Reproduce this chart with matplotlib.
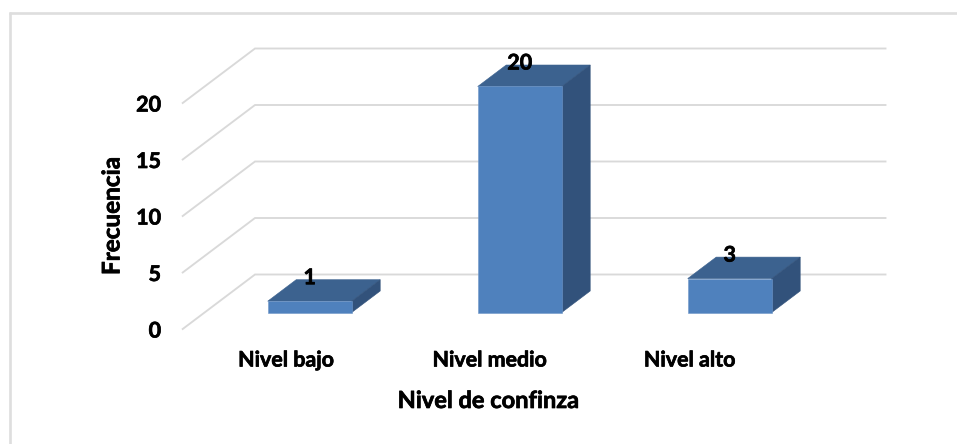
import matplotlib
matplotlib.use("Agg")
import matplotlib.pyplot as plt
import matplotlib.patheffects as pe
from matplotlib.patches import Polygon, Rectangle

categories = ["Nivel bajo", "Nivel medio", "Nivel alto"]
values = [1, 20, 3]
y_ticks = [0, 5, 10, 15, 20]
x_title = "Nivel de confinza"
y_title = "Frecuencia"

W, H = 957, 444
plt.rcParams['font.family'] = ['Lato', 'DejaVu Sans']
fig = plt.figure(figsize=(W/100, H/100), dpi=100, facecolor='white')
ax = fig.add_axes([0, 0, 1, 1])
PX_X = 210.0   # px per category
PX_Y = 11.3    # px per unit
X0 = 309.7     # px of category 0 centre
Y0 = 312.5     # px of value 0 front face
ax.set_xlim((0 - X0)/PX_X, (W - X0)/PX_X)
ax.set_ylim((Y0 - H)/PX_Y, Y0/PX_Y)
ax.axis('off')

def dx(px): return px/PX_X
def dy(px): return px/PX_Y

BOLD = [pe.withStroke(linewidth=0.5, foreground='black')]
GRID = '#d9d9d9'
FRAME = '#dedede'
# Outer frame: only the top and left edges show
ax.plot([dx(9.5-X0), dx(9.5-X0)], [dy(Y0-444), dy(Y0-12.5)], color=FRAME, lw=1.9, solid_capstyle='butt')
ax.plot([dx(8.5-X0), dx(957-X0)], [dy(Y0-13), dy(Y0-13)], color=FRAME, lw=1.9, solid_capstyle='butt')

wall_base_px = Y0 - 274.5
front_base_px = Y0 - 329.0
for v in y_ticks:
    yb = v + dy(wall_base_px)
    yf = v + dy(front_base_px)
    ax.plot([dx(182.7-X0), dx(255-X0), dx(885.5-X0)], [yf, yb, yb], color=GRID, lw=1.35,
            solid_joinstyle='miter', zorder=1)
    ax.text(dx(161-X0), yf, str(v), ha='right', va='center_baseline', fontsize=15.5,
            fontweight='bold', color='black', path_effects=BOLD)

half = dx(42.0)
ddx, ddy = dx(28.5), dy(21.5)
FRONT, TOP, SIDE = '#4f81bd', '#3c628f', '#32527b'
label_shift = [-23.7, -30, -40]
for i, v in enumerate(values):
    l, r = i - half, i + half
    ax.add_patch(Polygon([(l, v), (l+ddx, v+ddy), (r+ddx, v+ddy), (r, v)], fc=TOP, ec=TOP, lw=0.4, zorder=3))
    ax.add_patch(Polygon([(r, 0), (r+ddx, ddy), (r+ddx, v+ddy), (r, v)], fc=SIDE, ec=SIDE, lw=0.4, zorder=3))
    ax.add_patch(Rectangle((l, 0), r-l, v, fc=FRONT, ec='#6f97c9', lw=0.4, zorder=4))
    ax.text(i, v + dy(25.5), str(v), ha='center', va='center_baseline', fontsize=15.5,
            fontweight='bold', color='black', zorder=5, path_effects=BOLD)
    ax.text(i + dx(label_shift[i]), dy(Y0-366.5), categories[i], ha='center', va='baseline',
            fontsize=15.4, fontweight='bold', color='black', path_effects=BOLD)

ax.text(dx(488.5-X0), dy(Y0-408), x_title, ha='center', va='baseline', fontsize=17, fontweight='bold', path_effects=BOLD)
ax.text(dx(112-X0), dy(Y0-216), y_title, ha='center', va='center', rotation=90, fontsize=17.5, fontweight='bold', path_effects=BOLD)

fig.savefig('out.png', dpi=100, facecolor='white')
